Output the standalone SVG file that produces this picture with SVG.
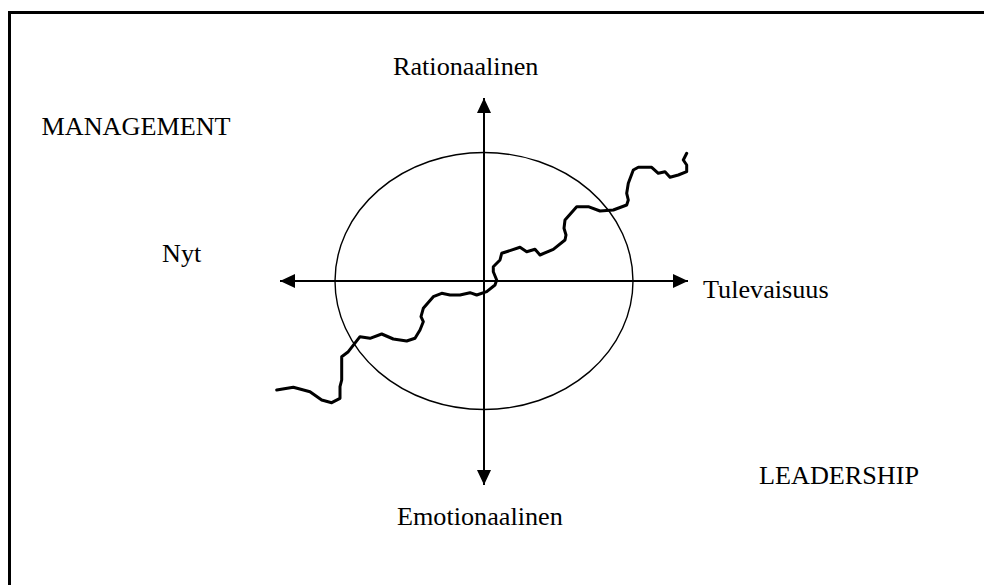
<svg xmlns="http://www.w3.org/2000/svg" width="984" height="585" viewBox="0 0 984 585">
<style>
text{font-family:"Liberation Serif","Times New Roman",serif;font-size:26.2px;fill:#000}
.axis{stroke:#000;stroke-width:2;fill:none}
</style>
<defs>
<marker id="ah" viewBox="0 0 15 14" refX="15" refY="7" markerWidth="15" markerHeight="14" markerUnits="userSpaceOnUse" orient="auto">
<path d="M0,0 L15,7 L0,14 Z" fill="#000"/>
</marker>
</defs>
<rect width="984" height="585" fill="#fff"/>
<rect id="frame" x="9.5" y="12.5" width="1000" height="600" fill="none" stroke="#000" stroke-width="3"/>
<g id="circle"><ellipse cx="484" cy="281" rx="149" ry="128.5" fill="none" stroke="#000" stroke-width="1.4"/></g>
<g id="connectors">
<line class="axis" x1="484" y1="281" x2="280" y2="281" marker-end="url(#ah)"/>
<line class="axis" x1="484" y1="281" x2="688" y2="281" marker-end="url(#ah)"/>
<line class="axis" x1="484" y1="281" x2="484" y2="98" marker-end="url(#ah)"/>
<line class="axis" x1="484" y1="281" x2="484" y2="485" marker-end="url(#ah)"/>
</g>
<g id="trend">
<path d="M276.7,390 L293.3,387.3 L310,391.7 L321.7,400 L331.7,402.7 L340,398.3 L340,386.7 L341.7,380 L341.7,356.7 L348.3,351.7 L360,336.7 L370,338.3 L381.7,334 L393.3,339 L406.7,341 L415,338.3 L420,330 L423.3,321.7 L421,316.7 L423.3,308.3 L433.3,296.7 L441.7,293.3 L450,295 L460,295 L470,292.7 L476.7,295 L486.7,291.7 L495,285 L496.7,280 L493.3,271.7 L493.3,266.7 L500,260 L501.7,253.3 L520,247.3 L526.7,251.7 L535,249.3 L540,255 L553.3,249.3 L565,240 L566,235 L564,228.3 L565,220 L576.7,206.7 L588.3,206.7 L600,211 L613.3,210 L626.7,205 L628.3,200 L626.7,193.3 L628.3,183.3 L633.3,170 L638.3,167.3 L651.7,167.3 L658.3,173.3 L665,171.7 L670,177.3 L678.3,175 L686.7,171.7 L686.7,165 L683.3,160 L686.7,153.3" fill="none" stroke="#000" stroke-width="3" stroke-linejoin="round" stroke-linecap="round"/>
</g>
<g id="label-management"><text x="41.5" y="135">MANAGEMENT</text></g>
<g id="label-rationaalinen"><text x="393" y="75">Rationaalinen</text></g>
<g id="label-nyt"><text x="162" y="262">Nyt</text></g>
<g id="label-tulevaisuus"><text x="703" y="298">Tulevaisuus</text></g>
<g id="label-leadership"><text x="759" y="484">LEADERSHIP</text></g>
<g id="label-emotionaalinen"><text x="397" y="525">Emotionaalinen</text></g>
</svg>
